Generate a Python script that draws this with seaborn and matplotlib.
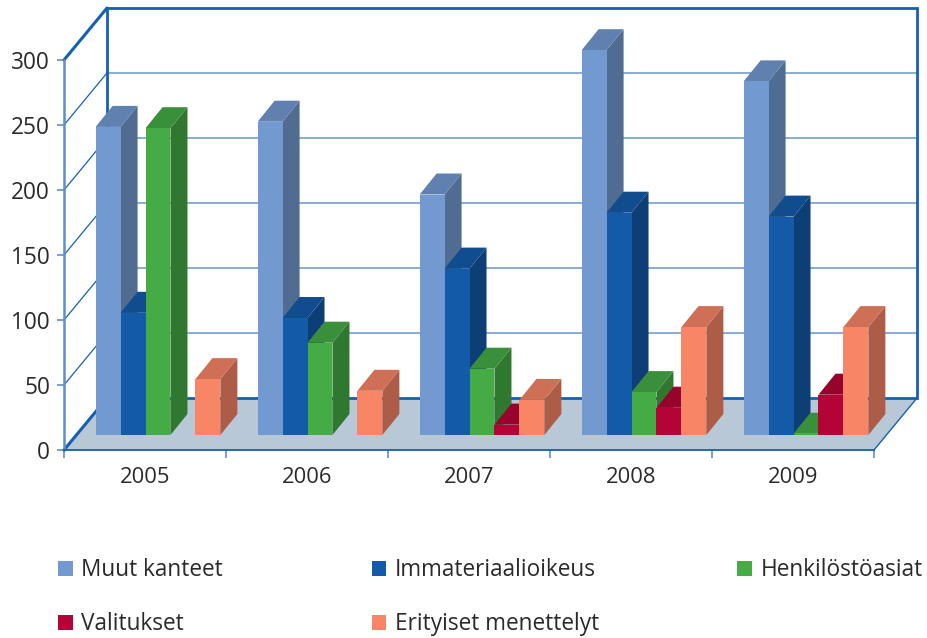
import matplotlib
matplotlib.use("Agg")
import matplotlib.pyplot as plt
import seaborn as sns
import pandas as pd
from matplotlib.patches import Polygon
from matplotlib.transforms import Affine2D, IdentityTransform
from matplotlib.colors import to_rgb

years = ["2005", "2006", "2007", "2008", "2009"]
muut = [237, 241, 185, 296, 272]
immateriaali = [94, 90, 128, 171, 168]
henkilosto = [236, 71, 51, 33, 1]
valitukset = [0, 0, 8, 21, 31]
erityiset = [43, 34, 27, 83, 83]
series_names = ["Muut kanteet", "Immateriaalioikeus", "Henkilöstöasiat", "Valitukset", "Erityiset menettelyt"]
series_values = [muut, immateriaali, henkilosto, valitukset, erityiset]
series_colors = ["#729ad1", "#135aa9", "#45ab45", "#b40336", "#f78566"]
y_ticks = [0, 50, 100, 150, 200, 250, 300]

W, H = 927, 638
TEXT = "#2b2a29"
DARK = "#1560b0"
LIGHT = "#7ea6d6"
sns.set_theme(style="white")
plt.rcParams["font.family"] = ["Open Sans", "DejaVu Sans"]

fig = plt.figure(figsize=(W / 100, H / 100), dpi=100)
def rect(l, t, r, b):
    return [l / W, (H - b) / H, (r - l) / W, (b - t) / H]

# front plane carries the scales
ax = fig.add_axes(rect(64, 60, 874, 450), zorder=1)
ax.set_xlim(-0.5, 4.5)
ax.set_ylim(0, 300)
ax.patch.set_alpha(0)
# bars stand on the floor, slightly in from the front edge
bx = fig.add_axes(rect(77.0, 45, 887.0, 435), zorder=2)
bx.patch.set_alpha(0)

df = pd.DataFrame(
    [(y, n, v[i]) for n, v in zip(series_names, series_values) for i, y in enumerate(years)],
    columns=["year", "series", "value"],
)
sns.barplot(data=df, x="year", y="value", hue="series", hue_order=series_names,
            palette=series_colors, order=years, width=0.77, gap=0, saturation=1,
            linewidth=0, ax=bx)
bx.set_xlim(-0.5, 4.5)
bx.set_ylim(0, 300)
handles, labels = bx.get_legend_handles_labels()
bx.get_legend().remove()
bx.set_axis_off()

DEPTH = (43, 52)
BAR_DEPTH = (17, 21)

tf_back = ax.transData + Affine2D().translate(*DEPTH)
# floor
p0 = ax.transData.transform([(-0.5, 0), (4.5, 0)])
floor = Polygon([p0[0], p0[1], p0[1] + DEPTH, p0[0] + DEPTH], closed=True,
                transform=IdentityTransform(), facecolor="#b9c8d6", edgecolor="none",
                zorder=1, clip_on=False)
ax.add_patch(floor)

# back wall gridlines and frame
for t in y_ticks[1:-1]:
    ax.plot([-0.5, 4.5], [t, t], transform=tf_back, color=LIGHT, lw=1.3, zorder=0.5, clip_on=False)
    a = ax.transData.transform((-0.5, t))
    ax.plot([a[0], a[0] + DEPTH[0]], [a[1], a[1] + DEPTH[1]], transform=IdentityTransform(),
            color=DARK, lw=0.9, zorder=0.5, clip_on=False)
ax.plot([-0.5, -0.5, 4.5, 4.5, -0.5], [0, 300, 300, 0, 0], transform=tf_back,
        color=DARK, lw=2.0, zorder=1.5, clip_on=False, solid_joinstyle="miter")
for t in (0, 300):
    a = ax.transData.transform((-0.5, t))
    ax.plot([a[0], a[0] + DEPTH[0]], [a[1], a[1] + DEPTH[1]], transform=IdentityTransform(),
            color=DARK, lw=2.2, zorder=1.6, clip_on=False)
r = ax.transData.transform((4.5, 0))
ax.plot([r[0], r[0] + DEPTH[0]], [r[1], r[1] + DEPTH[1]], transform=IdentityTransform(),
        color=DARK, lw=1.0, zorder=1.6, clip_on=False)

# bar depth faces, left to right so nearer faces cover the sides
ordered = sorted(bx.patches, key=lambda p: p.get_x())
for k, p in enumerate(ordered):
    x0, w, h = p.get_x(), p.get_width(), p.get_height()
    if h <= 0:
        continue
    pts = bx.transData.transform([(x0, 0), (x0 + w, 0), (x0 + w, h), (x0, h)])
    fc = to_rgb(p.get_facecolor()[:3])
    top = [c * 0.84 for c in fc]
    side = [c * 0.70 for c in fc]
    bl, br, tr, tl = pts
    d = BAR_DEPTH
    bx.add_patch(Polygon([br, tr, tr + d, br + d], transform=IdentityTransform(),
                         facecolor=side, edgecolor="none", zorder=3 * k + 3, clip_on=False))
    bx.add_patch(Polygon([tl, tr, tr + d, tl + d], transform=IdentityTransform(),
                         facecolor=top, edgecolor="none", zorder=3 * k + 3, clip_on=False))
    p.set_zorder(3 * k + 4)
    p.set_clip_on(False)

# axes styling
for s in ("top", "right"):
    ax.spines[s].set_visible(False)
ax.spines["left"].set_color("#5f8fcb")
ax.spines["left"].set_linewidth(1.8)
ax.spines["bottom"].set_color(DARK)
ax.spines["bottom"].set_linewidth(1.3)
ax.set_yticks(y_ticks)
ax.set_yticklabels([str(t) for t in y_ticks], fontsize=16.3, color=TEXT)
ax.tick_params(axis="y", length=5, width=1.2, color="#5f8fcb", pad=5, left=True)
ax.set_xticks([i - 0.5 for i in range(len(years) + 1)])
ax.set_xticklabels([""] * (len(years) + 1))
ax.tick_params(axis="x", which="major", length=6, width=1.2, color="#5f8fcb", bottom=True)
ax.set_xticks(range(len(years)), minor=True)
ax.set_xticklabels(years, minor=True, fontsize=15.8, color=TEXT)
ax.tick_params(axis="x", which="minor", length=0, pad=12)
ax.set_xlabel("")
ax.set_ylabel("")

leg_kw = dict(frameon=False, fontsize=16.3, handlelength=0.66, handleheight=0.62,
              handletextpad=0.36, labelspacing=1.32, labelcolor=TEXT, loc="upper left")
order = [0, 3, 1, 4]
leg = fig.legend([handles[i] for i in order], [labels[i] for i in order], ncol=2,
                 bbox_to_anchor=(38 / W, 1 - 538 / H), columnspacing=6.55, **leg_kw)
leg2 = fig.legend([handles[2]], [labels[2]], ncol=1,
                  bbox_to_anchor=(717 / W, 1 - 538 / H), **leg_kw)

fig.savefig("out.png", dpi=100, facecolor="white")
